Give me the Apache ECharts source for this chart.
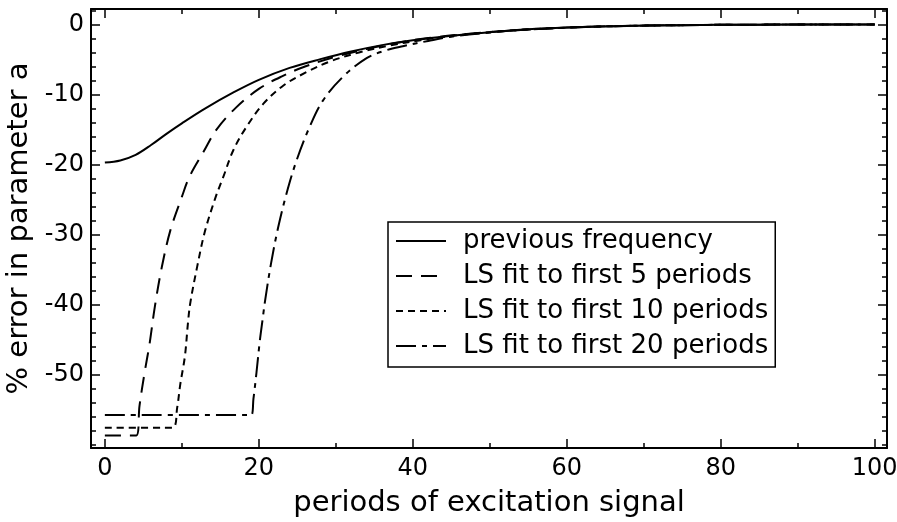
<!DOCTYPE html>
<html>
<head>
<meta charset="utf-8">
<script src="https://cdn.jsdelivr.net/npm/echarts@6/dist/echarts.min.js"></script>
<style>
  body { margin: 0; background: #fff; }
  #chart { width: 897px; height: 522px; }
</style>
</head>
<body>
<div id="chart"></div>
<script>
// values
var prevX = [0, 2, 4, 6, 8, 10, 13, 16.7, 20, 24, 28, 32, 36, 40, 45, 50, 55, 60, 66, 75, 85, 100];
var prevY = [-19.7, -19.4, -18.6, -17.2, -15.6, -14.1, -12.0, -9.7, -7.9, -6.2, -4.95, -3.85, -2.95, -2.25, -1.6, -1.1, -0.7, -0.45, -0.25, -0.1, -0.03, 0];

var fit5X = [0, 4.1, 4.5, 5.2, 5.8, 6.5, 7.4, 8.5, 10, 11, 12.8, 14.5, 17, 20, 23, 26, 30, 34, 38, 42, 47, 54, 60, 66, 75, 85, 100];
var fit5Y = [-58.6, -58.6, -54.4, -49.4, -45.6, -40.2, -34.6, -29.4, -24.6, -21.7, -18.2, -15.0, -11.9, -9.2, -7.4, -6.0, -4.6, -3.5, -2.6, -1.95, -1.35, -0.8, -0.45, -0.25, -0.1, -0.03, 0];

var fit10X = [0, 8.8, 9.4, 9.8, 10.4, 10.8, 11.1, 12, 13, 14.4, 15.4, 16.7, 18.4, 20.6, 23.2, 26.2, 29.2, 33, 37, 41, 45, 50, 55, 60, 66, 75, 85, 100];
var fit10Y = [-57.5, -57.5, -54.6, -51.3, -47.3, -42.5, -39.7, -34.5, -29.5, -24.6, -21.7, -17.9, -14.6, -11.3, -8.7, -6.8, -5.3, -4.0, -3.0, -2.25, -1.65, -1.1, -0.7, -0.45, -0.25, -0.1, -0.03, 0];

var fit20X = [0, 19, 19.3, 19.7, 20.1, 20.5, 20.8, 21.6, 22.5, 23.6, 24.9, 26.6, 28.3, 30.9, 34, 36.5, 38.7, 42, 45, 50, 55, 60, 66, 75, 85, 100];
var fit20Y = [-55.7, -55.7, -53.4, -49.6, -45.4, -42, -39.5, -34, -29, -24.1, -19.4, -14.6, -10.9, -7.5, -4.8, -3.7, -3.1, -2.35, -1.75, -1.15, -0.72, -0.45, -0.25, -0.1, -0.03, 0];

var xTicks = [0, 20, 40, 60, 80, 100];
var xMinor = [10, 30, 50, 70, 90];
var yTicks = [0, -10, -20, -30, -40, -50];
var yMinor = [2, -2, -4, -6, -8, -12, -14, -16, -18, -22, -24, -26, -28, -32, -34, -36, -38, -42, -44, -46, -48, -52, -54, -56, -58, -60];

var names = ['previous frequency', 'LS fit to first 5 periods', 'LS fit to first 10 periods', 'LS fit to first 20 periods'];

var FONT = "'DejaVu Sans', sans-serif";

function pairs(xs, ys){
    var out = [];
    for (var i = 0; i < xs.length; i++) {
        out.push([xs[i], ys[i]]);
    }
    return out;
}

function xAx(pos, ticks, len, showLabel, showLine){
    return {
        type: 'value', position: pos, min: -1.8, max: 101.6,
        axisLine: { show: showLine, onZero: false, lineStyle: { color: '#000', width: 2 } },
        axisTick: { show: true, inside: true, length: len, customValues: ticks, lineStyle: { color: '#000', width: 1.5 } },
        axisLabel: { show: showLabel, customValues: ticks, margin: 9, color: '#000', fontSize: 24, fontFamily: FONT },
        splitLine: { show: false }
    };
}
function yAx(pos, ticks, len, showLabel, showLine){
    return {
        type: 'value', position: pos, min: -60.4, max: 2.2,
        axisLine: { show: showLine, onZero: false, lineStyle: { color: '#000', width: 2 } },
        axisTick: { show: true, inside: true, length: len, customValues: ticks, lineStyle: { color: '#000', width: 1.5 } },
        axisLabel: { show: showLabel, customValues: ticks, margin: 7, color: '#000', fontSize: 24, fontFamily: FONT },
        splitLine: { show: false }
    };
}

var xMain = xAx('bottom', xTicks, 9, true, true);
xMain.name = 'periods of excitation signal';
xMain.nameLocation = 'middle';
xMain.nameGap = 41;
xMain.nameTextStyle = { color: '#000', fontSize: 29, fontFamily: FONT };

var yMain = yAx('left', yTicks, 9, true, true);
yMain.name = '% error in parameter a';
yMain.nameLocation = 'middle';
yMain.nameGap = 52;
yMain.nameTextStyle = { color: '#000', fontSize: 29, fontFamily: FONT };

function line(name, data, type){
    return {
        name: name, type: 'line', xAxisIndex: 0, yAxisIndex: 0,
        data: data, symbol: 'none', smooth: 0.35,
        lineStyle: { color: '#000', width: 2, type: type },
        itemStyle: { color: '#000' }
    };
}

var chart = echarts.init(document.getElementById('chart'));
chart.setOption({
    animation: false,
    backgroundColor: '#fff',
    grid: { left: 91, right: 10, top: 9, bottom: 74, outerBoundsMode: 'none' },
    xAxis: [
        xMain,
        xAx('bottom', xMinor, 5, false, false),
        xAx('top', xTicks, 9, false, true),
        xAx('top', xMinor, 5, false, false)
    ],
    yAxis: [
        yMain,
        yAx('left', yMinor, 5, false, false),
        yAx('right', yTicks, 9, false, true),
        yAx('right', yMinor, 5, false, false)
    ],
    legend: {
        data: names,
        orient: 'vertical',
        left: 388, top: 222,
        padding: [6, 7, 8, 7],
        itemGap: 9,
        itemWidth: 50, itemHeight: 14,
        itemStyle: { opacity: 0 },
        backgroundColor: '#fff',
        borderColor: '#000', borderWidth: 1.5, borderRadius: 0,
        selectedMode: false,
        textStyle: { color: '#000', fontSize: 26, fontFamily: FONT, lineHeight: 26, padding: [0, 0, 0, 12] }
    },
    series: [
        line(names[0], pairs(prevX, prevY), 'solid'),
        line(names[1], pairs(fit5X, fit5Y), [16, 9]),
        line(names[2], pairs(fit10X, fit10Y), [7, 5]),
        line(names[3], pairs(fit20X, fit20Y), [20, 6, 5, 6])
    ]
});
</script>
</body>
</html>
